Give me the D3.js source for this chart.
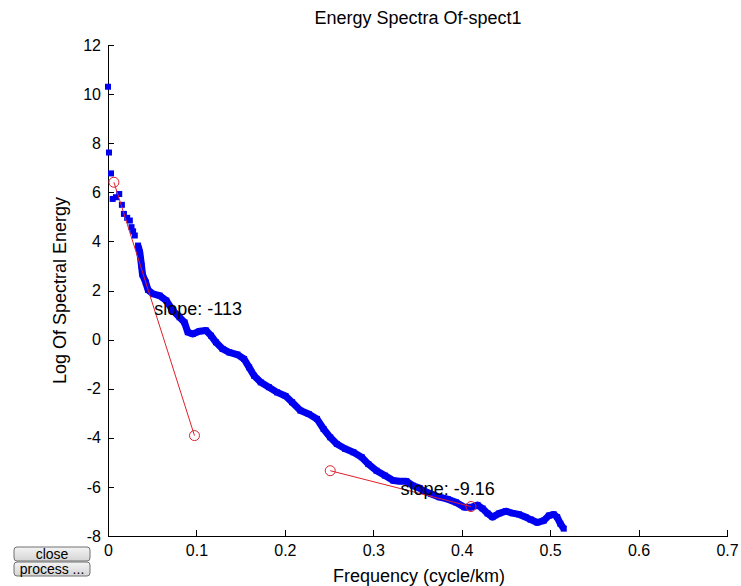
<!DOCTYPE html>
<html>
  <head>
    <meta charset="utf-8" />
    <style>
      body{
        margin: 0px;
        background: white;
        font-family: 'Liberation Sans', Arial, sans-serif;
      }
      .axis path, .axis line{
        stroke: black;
        stroke-width: 1;
        shape-rendering: crispEdges;
      }
      .axis text{
        font-family: 'Liberation Sans', Arial, sans-serif;
        font-size: 16px;
        fill: black;
      }
    </style>
  </head>
  <body>
    <script src="https://d3js.org/d3.v7.min.js"></script>
    <svg id="chart"></svg>
    <script>
      // spectrum
      var freq = [0, 0.0011, 0.0034, 0.0053, 0.0090, 0.0127, 0.0157, 0.0180, 0.0217, 0.0247,
        0.0266, 0.0284, 0.0303, 0.0340, 0.0360, 0.0379, 0.0390, 0.0427, 0.0453, 0.0509,
        0.0584, 0.0660, 0.0734, 0.0809, 0.0865, 0.0902, 0.0958, 0.1034, 0.1109, 0.1165,
        0.1221, 0.1296, 0.1371, 0.1464, 0.1539, 0.1596, 0.1652, 0.1727, 0.1820, 0.1913,
        0.2008, 0.2082, 0.2176, 0.2270, 0.2363, 0.2438, 0.2513, 0.2588, 0.2682, 0.2775,
        0.2869, 0.2944, 0.3037, 0.3131, 0.3225, 0.3300, 0.3374, 0.3449, 0.3525, 0.3562,
        0.3655, 0.3749, 0.3843, 0.3936, 0.4030, 0.4104, 0.4180, 0.4236, 0.4292, 0.4348,
        0.4424, 0.4498, 0.4573, 0.4648, 0.4722, 0.4779, 0.4854, 0.4929, 0.4985, 0.5042,
        0.5079, 0.5116, 0.5154];
      var energy = [10.30, 7.62, 6.77, 5.73, 5.80, 5.93, 5.49, 5.12, 4.96, 4.85,
        4.58, 4.41, 4.24, 3.83, 3.55, 3.01, 2.65, 2.33, 2.02, 1.86,
        1.79, 1.59, 1.18, 0.91, 0.70, 0.30, 0.23, 0.34, 0.37, 0.16,
        -0.11, -0.38, -0.52, -0.61, -0.79, -1.13, -1.47, -1.74, -1.94, -2.15,
        -2.30, -2.55, -2.89, -3.03, -3.23, -3.64, -3.98, -4.25, -4.45, -4.59,
        -4.79, -5.07, -5.34, -5.54, -5.74, -5.77, -5.77, -5.95, -6.05, -6.15,
        -6.29, -6.42, -6.50, -6.63, -6.83, -6.83, -6.74, -6.88, -7.08, -7.23,
        -7.08, -6.99, -7.07, -7.12, -7.23, -7.33, -7.45, -7.37, -7.17, -7.12,
        -7.23, -7.50, -7.70];

      // fitted segments (end points) and their labels
      var fitFreq = [[0.0067, 0.0978], [0.2513, 0.4105]];
      var fitEnergy = [[6.41, -3.91], [-5.34, -6.80]];
      var slopeLabels = ["slope: -113", "slope: -9.16"];

      var xTicks = [0, 0.1, 0.2, 0.3, 0.4, 0.5, 0.6, 0.7];
      var xTickLabels = ["0", "0.1", "0.2", "0.3", "0.4", "0.5", "0.6", "0.7"];
      var yTicks = [-8, -6, -4, -2, 0, 2, 4, 6, 8, 10, 12];

      var width = 741;
      var height = 586;

      var svg = d3.select("#chart")
        .attr("width", width)
        .attr("height", height);

      var x = d3.scaleLinear().domain([0, 0.7]).range([108, 727]);
      var y = d3.scaleLinear().domain([-8, 12]).range([536, 45]);

      // axes, ticks pointing inward like matlab
      svg.append("g")
        .attr("class", "axis")
        .attr("transform", "translate(0," + y(-8) + ")")
        .call(d3.axisBottom(x)
          .tickValues(xTicks)
          .tickFormat(function (d, i) { return xTickLabels[i]; })
          .tickSizeInner(-6)
          .tickSizeOuter(0)
          .tickPadding(9));

      svg.append("g")
        .attr("class", "axis")
        .attr("transform", "translate(" + x(0) + ",0)")
        .call(d3.axisLeft(y)
          .tickValues(yTicks)
          .tickFormat(function (d) { return String(d); })
          .tickSizeInner(-6)
          .tickSizeOuter(0)
          .tickPadding(7));

      // title and axis labels
      svg.append("text")
        .attr("x", 418)
        .attr("y", 24)
        .attr("text-anchor", "middle")
        .style("font-size", "18px")
        .text("Energy Spectra Of-spect1");

      svg.append("text")
        .attr("x", 419)
        .attr("y", 582)
        .attr("text-anchor", "middle")
        .style("font-size", "18px")
        .text("Frequency (cycle/km)");

      svg.append("text")
        .attr("transform", "translate(66," + (y(-8) + y(12)) / 2 + ") rotate(-90)")
        .attr("text-anchor", "middle")
        .style("font-size", "18px")
        .text("Log Of Spectral Energy");

      // spectrum
      var points = freq.map(function (f, i) { return [f, energy[i]]; });

      // the dense part of the spectrum reads as one thick band
      svg.append("path")
        .datum(points.slice(13))
        .attr("fill", "none")
        .attr("stroke", "#0000f0")
        .attr("stroke-width", 7)
        .attr("stroke-linejoin", "round")
        .attr("d", d3.line()
          .x(function (d) { return x(d[0]); })
          .y(function (d) { return y(d[1]); }));

      svg.selectAll(".pt")
        .data(points)
        .enter()
        .append("rect")
        .attr("class", "pt")
        .attr("x", function (d) { return x(d[0]) - 3; })
        .attr("y", function (d) { return y(d[1]) - 3; })
        .attr("width", 6)
        .attr("height", 6)
        .attr("fill", "#0000f0");

      // fit lines
      fitFreq.forEach(function (fs, k) {
        var seg = fs.map(function (f, i) { return [f, fitEnergy[k][i]]; });

        svg.append("line")
          .attr("x1", x(seg[0][0]))
          .attr("y1", y(seg[0][1]))
          .attr("x2", x(seg[1][0]))
          .attr("y2", y(seg[1][1]))
          .attr("stroke", "#e0202a")
          .attr("stroke-width", 1);

        svg.selectAll(".end" + k)
          .data(seg)
          .enter()
          .append("circle")
          .attr("cx", function (d) { return x(d[0]); })
          .attr("cy", function (d) { return y(d[1]); })
          .attr("r", 5)
          .attr("fill", "none")
          .attr("stroke", "#e0202a")
          .attr("stroke-width", 1);

        svg.append("text")
          .attr("x", x((seg[0][0] + seg[1][0]) / 2))
          .attr("y", y((seg[0][1] + seg[1][1]) / 2))
          .attr("dy", "0.35em")
          .style("font-size", "18px")
          .text(slopeLabels[k]);
      });

      // the two gui buttons under the axes
      var buttons = ["close", "process ..."];
      var grad = svg.append("defs").append("linearGradient")
        .attr("id", "btn")
        .attr("x1", 0).attr("y1", 0).attr("x2", 0).attr("y2", 1);
      grad.append("stop").attr("offset", "0%").attr("stop-color", "#f4f4f4");
      grad.append("stop").attr("offset", "100%").attr("stop-color", "#d4d4d4");

      var btn = svg.selectAll(".btn")
        .data(buttons)
        .enter()
        .append("g")
        .attr("class", "btn")
        .attr("transform", function (d, i) { return "translate(14," + (547 + i * 15) + ")"; });

      btn.append("rect")
        .attr("width", 76)
        .attr("height", 14)
        .attr("rx", 3)
        .attr("fill", "url(#btn)")
        .attr("stroke", "#707070");

      btn.append("text")
        .attr("x", 38)
        .attr("y", 12)
        .attr("text-anchor", "middle")
        .style("font-size", "14px")
        .text(function (d) { return d; });
    </script>
  </body>
</html>
